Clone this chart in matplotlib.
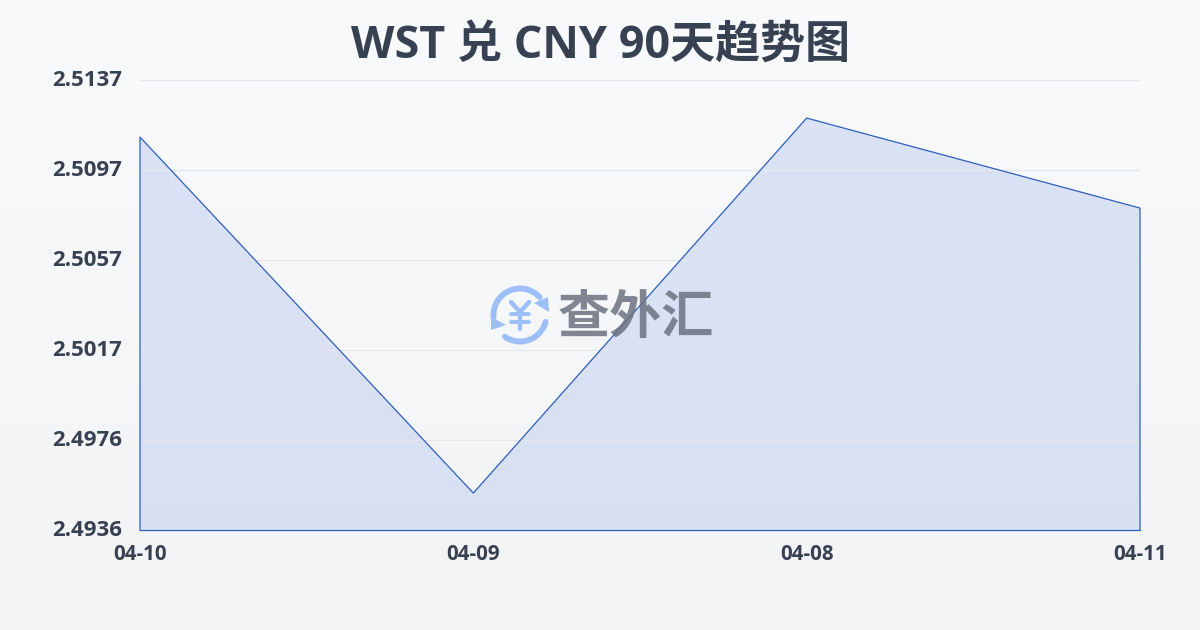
#!/usr/bin/env python3

# WST / CNY trend area chart with watermark

import numpy as np
import matplotlib
matplotlib.use('Agg')
import matplotlib.pyplot as plt
from matplotlib.colors import LinearSegmentedColormap
from matplotlib.patches import Arc, Polygon
from matplotlib.transforms import ScaledTranslation

plt.rcParams['font.family'] = ['Open Sans', 'Noto Sans CJK SC', 'DejaVu Sans']

dates = ['04-10', '04-09', '04-08', '04-11']
rates = [2.51115, 2.49525, 2.5120, 2.50798]
yTickLabels = ['2.4936', '2.4976', '2.5017', '2.5057', '2.5097', '2.5137']
yMin = 2.4936
yMax = 2.5137

TEXT_COLOR = '#374151'
LINE_COLOR = '#2f5fbc'
W = 1200
H = 630


def addBackground(fig):
    bg = fig.add_axes([0, 0, 1, 1], zorder=0)
    cmap = LinearSegmentedColormap.from_list('bg', ['#f8fafc', '#f3f4f6'])
    bg.imshow(np.linspace(0, 1, 256).reshape(-1, 1), aspect='auto', cmap=cmap)
    bg.axis('off')


def addWatermark(fig):
    # Overlay in pixel coordinates, y pointing down
    wm = fig.add_axes([0, 0, 1, 1], zorder=3)
    wm.set_xlim(0, W)
    wm.set_ylim(H, 0)
    wm.axis('off')
    wm.patch.set_alpha(0)

    blue = '#9dbff7'
    cx, cy = 520, 315
    wm.add_patch(Arc((cx, cy), 53, 53, theta1=175, theta2=318, color=blue, lw=4.2, capstyle='round'))
    wm.add_patch(Arc((cx, cy), 53, 53, theta1=15, theta2=125, color=blue, lw=4.2, capstyle='round'))
    wm.add_patch(Polygon([[534, 303], [548, 297], [549, 312]], closed=True, color=blue, lw=0))
    wm.add_patch(Polygon([[491, 317], [491, 330], [506, 325]], closed=True, color=blue, lw=0))
    # yen sign
    wm.plot([511, 520, 529], [302, 312, 302], color=blue, lw=3.2, solid_capstyle='round')
    wm.plot([520, 520], [312, 329], color=blue, lw=3.2, solid_capstyle='round')
    wm.plot([511, 529], [314, 314], color=blue, lw=2.8, solid_capstyle='round')
    wm.plot([511, 529], [322, 322], color=blue, lw=2.8, solid_capstyle='round')

    wm.text(636, 319, '查外汇', fontsize=37.5, fontweight='bold', color='#6b7280', alpha=0.85,
            ha='center', va='center')


def plotResults():
    fig = plt.figure(figsize=(W / 100, H / 100), dpi=100)
    addBackground(fig)

    ax = fig.add_axes([140 / W, 1 - 530 / H, 1000 / W, 450 / H], zorder=2)
    ax.patch.set_alpha(0)

    xPos = np.arange(len(dates))
    ax.fill_between(xPos, rates, yMin, facecolor='#b7c8ef', alpha=0.45, edgecolor='none', zorder=2)
    # outline runs down both sides and along the base
    ax.plot(np.concatenate(([xPos[0]], xPos, [xPos[-1]])), [yMin] + rates + [yMin],
            color=LINE_COLOR, lw=0.9, zorder=4, clip_on=False)
    ax.plot([xPos[0], xPos[-1]], [yMin, yMin], color=LINE_COLOR, lw=0.9, zorder=4, clip_on=False)

    ax.set_xlim(xPos[0], xPos[-1])
    ax.set_ylim(yMin, yMax)
    ax.set_yticks(np.linspace(yMin, yMax, len(yTickLabels)))
    ax.set_yticklabels(yTickLabels, fontsize=16, fontweight='bold', color=TEXT_COLOR)
    ax.set_xticks(xPos)
    ax.set_xticklabels(dates, fontsize=14.8, fontweight='bold', color=TEXT_COLOR)
    ax.tick_params(axis='y', length=0, pad=13)
    ax.tick_params(axis='x', length=7, width=0.8, color='#eceff3', pad=3)

    # y labels sit a little above their gridlines
    shiftUp = ScaledTranslation(0, 2 / 100, fig.dpi_scale_trans)
    for label in ax.get_yticklabels():
        label.set_transform(label.get_transform() + shiftUp)

    ax.grid(axis='y', color='#e3e6eb', lw=0.8, zorder=3)
    ax.set_axisbelow(False)
    for spine in ax.spines.values():
        spine.set_visible(False)

    fig.text(601 / W, 1 - 46 / H, 'WST 兑 CNY 90天趋势图', fontsize=32.4, fontweight='bold',
             color=TEXT_COLOR, ha='center', va='center')

    addWatermark(fig)
    fig.savefig('out.png', dpi=100)


def main():
    plotResults()


if __name__ == '__main__':
    main()
